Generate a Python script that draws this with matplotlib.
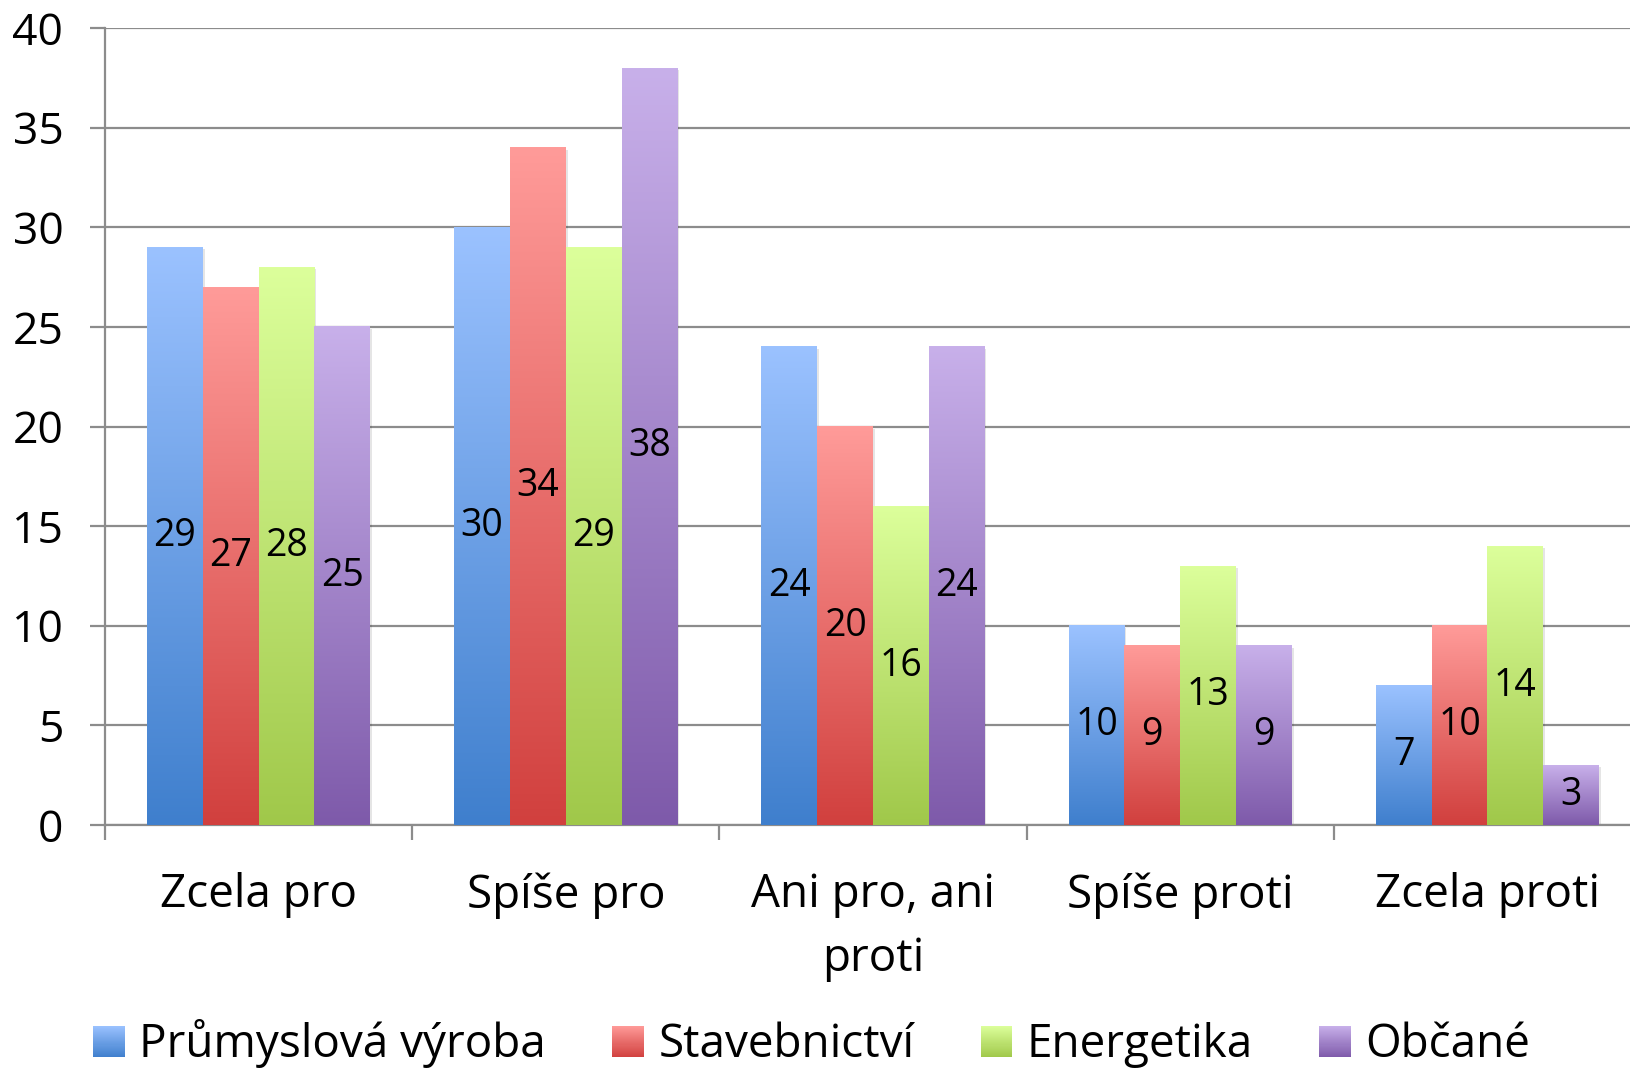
import numpy as np
import matplotlib.pyplot as plt
from matplotlib.colors import LinearSegmentedColormap, to_rgb
from matplotlib.legend_handler import HandlerBase
from matplotlib.patches import Rectangle

plt.rcParams['font.family'] = ['Open Sans', 'DejaVu Sans']

categories = ["Zcela pro", "Spíše pro", "Ani pro, ani\nproti", "Spíše proti", "Zcela proti"]
series_names = ["Průmyslová výroba", "Stavebnictví", "Energetika", "Občané"]
prumyslova = [29, 30, 24, 10, 7]
stavebnictvi = [27, 34, 20, 9, 10]
energetika = [28, 29, 16, 13, 14]
obcane = [25, 38, 24, 9, 3]
yticks = [0, 5, 10, 15, 20, 25, 30, 35, 40]

top_colors = ["#9BC2FF", "#FF9B99", "#DCFF9B", "#C8B0EA"]
bottom_colors = ["#3F7FCD", "#D1403E", "#A0C84A", "#7E5AAA"]
GRID = "#8c8c8c"


class GradientHandler(HandlerBase):
    def __init__(self, top, bottom, n=30):
        super().__init__()
        self.top = np.array(to_rgb(top))
        self.bottom = np.array(to_rgb(bottom))
        self.n = n

    def create_artists(self, legend, orig_handle, xdescent, ydescent,
                       width, height, fontsize, trans):
        arts = []
        for i in range(self.n):
            t = (i + 0.5) / self.n
            c = self.bottom + (self.top - self.bottom) * t
            r = Rectangle((-xdescent, -ydescent + height * i / self.n),
                          width, height / self.n * 1.05,
                          facecolor=c, edgecolor='none', transform=trans)
            arts.append(r)
        return arts


fig = plt.figure(figsize=(16.31, 10.69), dpi=100)
ax = fig.add_axes([0.0644, 0.2283, 0.9417, 0.7454])

series = [prumyslova, stavebnictvi, energetika, obcane]
x = np.arange(len(categories))
bw = 0.1815
offsets = (np.arange(4) - 1.5) * bw

grad = np.linspace(0, 1, 256).reshape(-1, 1)
for i, vals in enumerate(series):
    cmap = LinearSegmentedColormap.from_list(f"g{i}", [bottom_colors[i], top_colors[i]])
    bars = ax.bar(x + offsets[i], vals, bw, facecolor='none', edgecolor='none', zorder=3)
    for rect, v in zip(bars, vals):
        bx, bwid, bh = rect.get_x(), rect.get_width(), rect.get_height()
        # soft shadow on the right
        ax.add_patch(Rectangle((bx + 0.006, 0), bwid, bh - 0.1, facecolor='#000000',
                               alpha=0.10, edgecolor='none', zorder=2))
        ax.imshow(grad, cmap=cmap, extent=[bx, bx + bwid, 0, bh], origin='lower',
                  aspect='auto', zorder=3, interpolation='bilinear')
        ax.text(bx + bwid / 2, bh / 2, str(v), ha='center', va='center',
                fontsize=27, color='black', zorder=5)

ax.set_xlim(-0.5, 4.5)
ax.set_ylim(0, 40)
ax.set_yticks(yticks)
ax.yaxis.grid(True, color=GRID, linewidth=1.6)
ax.set_axisbelow(True)

for s in ['top', 'right']:
    ax.spines[s].set_visible(False)
for s in ['left', 'bottom']:
    ax.spines[s].set_color(GRID)
    ax.spines[s].set_linewidth(1.6)

ax.tick_params(axis='y', length=11, width=1.6, color=GRID, labelsize=32, pad=19)
ax.set_xticks(x)
ax.set_xticklabels(categories, fontsize=33, linespacing=1.5)
ax.set_xticks(np.arange(-0.5, 5.0, 1.0), minor=True)
ax.tick_params(axis='x', which='major', length=0, pad=34)
ax.tick_params(axis='x', which='minor', length=11, width=1.6, color=GRID)

handles = [Rectangle((0, 0), 1, 1) for _ in series_names]
hmap = {h: GradientHandler(top_colors[i], bottom_colors[i]) for i, h in enumerate(handles)}
fig.legend(handles, series_names, handler_map=hmap, loc='center left',
           bbox_to_anchor=(0.032, 0.0235), ncol=4, frameon=False, fontsize=33,
           handlelength=0.68, handleheight=0.68, handletextpad=0.32,
           columnspacing=1.45)

fig.savefig("out.png", dpi=100)
